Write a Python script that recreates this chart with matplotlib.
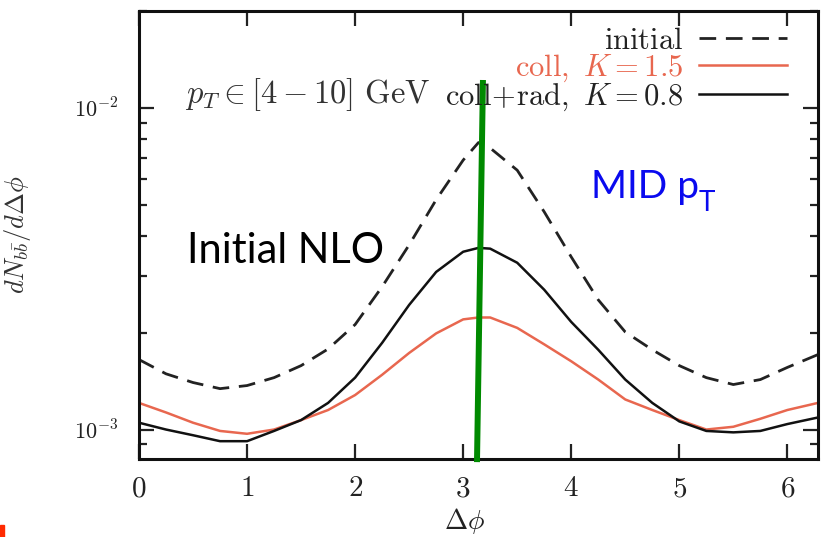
import numpy as np
import matplotlib
matplotlib.use("Agg")
import matplotlib.pyplot as plt
from matplotlib.ticker import FixedLocator, LogLocator, FuncFormatter, NullFormatter

plt.rcParams.update({"mathtext.fontset": "cm", "font.family": "serif",
                     "font.serif": ["DejaVu Serif"]})

# azimuthal correlation, pT in [4-10] GeV
dphi = [0.0, 0.25, 0.5, 0.75, 1.0, 1.25, 1.5, 1.75, 2.0, 2.25, 2.5, 2.75, 3.0, np.pi,
        3.25, 3.5, 3.75, 4.0, 4.25, 4.5, 4.75, 5.0, 5.25, 5.5, 5.75, 6.0, 2 * np.pi]
initial = [1.65e-3, 1.49e-3, 1.40e-3, 1.34e-3, 1.37e-3, 1.45e-3, 1.58e-3, 1.78e-3,
           2.12e-3, 2.78e-3, 3.75e-3, 5.18e-3, 6.88e-3, 7.8e-3, 7.5e-3, 6.4e-3,
           4.75e-3, 3.44e-3, 2.53e-3, 2.01e-3, 1.77e-3, 1.58e-3, 1.45e-3, 1.38e-3,
           1.43e-3, 1.56e-3, 1.71e-3]
coll = [1.21e-3, 1.13e-3, 1.05e-3, 0.99e-3, 0.97e-3, 1.00e-3, 1.07e-3, 1.15e-3,
        1.28e-3, 1.48e-3, 1.73e-3, 1.99e-3, 2.20e-3, 2.23e-3, 2.23e-3, 2.07e-3,
        1.84e-3, 1.63e-3, 1.43e-3, 1.24e-3, 1.15e-3, 1.07e-3, 1.00e-3, 1.02e-3,
        1.08e-3, 1.15e-3, 1.21e-3]
coll_rad = [1.05e-3, 1.00e-3, 0.96e-3, 0.92e-3, 0.92e-3, 0.99e-3, 1.07e-3, 1.21e-3,
            1.45e-3, 1.86e-3, 2.44e-3, 3.09e-3, 3.57e-3, 3.67e-3, 3.65e-3, 3.30e-3,
            2.72e-3, 2.16e-3, 1.77e-3, 1.43e-3, 1.21e-3, 1.06e-3, 0.99e-3, 0.98e-3,
            0.99e-3, 1.04e-3, 1.09e-3]

labels = [r"$\mathrm{initial}$", r"$\mathrm{coll},\ K=1.5$", r"$\mathrm{coll\!+\!rad},\ K=0.8$"]
red = "#e8674f"

fig = plt.figure(figsize=(8.21, 5.37), dpi=100)
ax = fig.add_axes([0.1693, 0.1453, 0.827, 0.8342])

h1, = ax.plot(dphi, initial, color="#222222", lw=2.0, ls=(0, (6, 3.5)))
h2, = ax.plot(dphi, coll, color=red, lw=1.8)
h3, = ax.plot(dphi, coll_rad, color="#111111", lw=1.8)

ax.set_yscale("log")
ax.set_xlim(0, 2 * np.pi)
ax.set_ylim(8.1e-4, 2.0e-2)

ax.xaxis.set_major_locator(FixedLocator(range(7)))
ax.xaxis.set_major_formatter(FuncFormatter(lambda v, p: r"$%d$" % v))
ax.yaxis.set_major_locator(LogLocator(base=10))
ax.yaxis.set_minor_locator(LogLocator(base=10, subs=np.arange(2, 10)))
ax.yaxis.set_major_formatter(FuncFormatter(lambda v, p: r"$10^{%d}$" % round(np.log10(v))))
ax.yaxis.set_minor_formatter(NullFormatter())
ax.tick_params(which="both", direction="in", top=True, right=True,
               width=1.6, colors="#222222")
ax.tick_params(which="major", length=11)
ax.tick_params(axis="x", which="major", pad=11, labelsize=21)
ax.tick_params(axis="y", which="major", pad=15, labelsize=16)
ax.tick_params(which="minor", length=6)
for s in ax.spines.values():
    s.set_linewidth(2.2)
    s.set_color("#111111")

ax.set_xlabel(r"$\Delta\phi$", fontsize=20, color="#222222")
ax.xaxis.set_label_coords(0.48, -0.105)
ax.set_ylabel(r"$dN_{b\bar{b}}/d\Delta\phi$", fontsize=19, color="#333333")
ax.yaxis.set_label_coords(-0.156, 0.50)

ax.text(0.068, 0.795, r"$p_T \in [4-10]\ \mathrm{GeV}$", transform=ax.transAxes,
        fontsize=23.5, color="#333333", va="baseline")

leg = ax.legend([h1, h2, h3], labels, loc="upper right", bbox_to_anchor=(0.975, 1.0),
                markerfirst=False, frameon=False, fontsize=22, handlelength=2.9,
                handletextpad=0.5, labelspacing=-0.12, borderaxespad=0.0,
                borderpad=0.45)
for t, c in zip(leg.get_texts(), ["#222222", red, "#222222"]):
    t.set_color(c)

# slide annotations
ax.plot([0.5066, 0.4978], [0.846, -0.007], transform=ax.transAxes, color="#008a00",
        lw=4.3, solid_capstyle="butt", clip_on=False, zorder=5)
fig.text(187 / 821, 1 - 263 / 537, "Initial NLO", family="Lato", fontsize=30,
         color="black", va="baseline")
mid = fig.text(591 / 821, 1 - 198 / 537, "MID p", family="Lato", fontsize=28,
               color="#0a0aef", va="baseline")
ax.annotate("T", xy=(1, 0), xycoords=mid, family="Lato", fontsize=20,
            color="#0a0aef", va="bottom", ha="left", xytext=(0, -8),
            textcoords="offset points")
fig.patches.append(plt.Rectangle((0, 0), 4 / 821, 12 / 537, transform=fig.transFigure,
                                 color="#ff2a00", figure=fig))

fig.savefig("out.png", dpi=100)
